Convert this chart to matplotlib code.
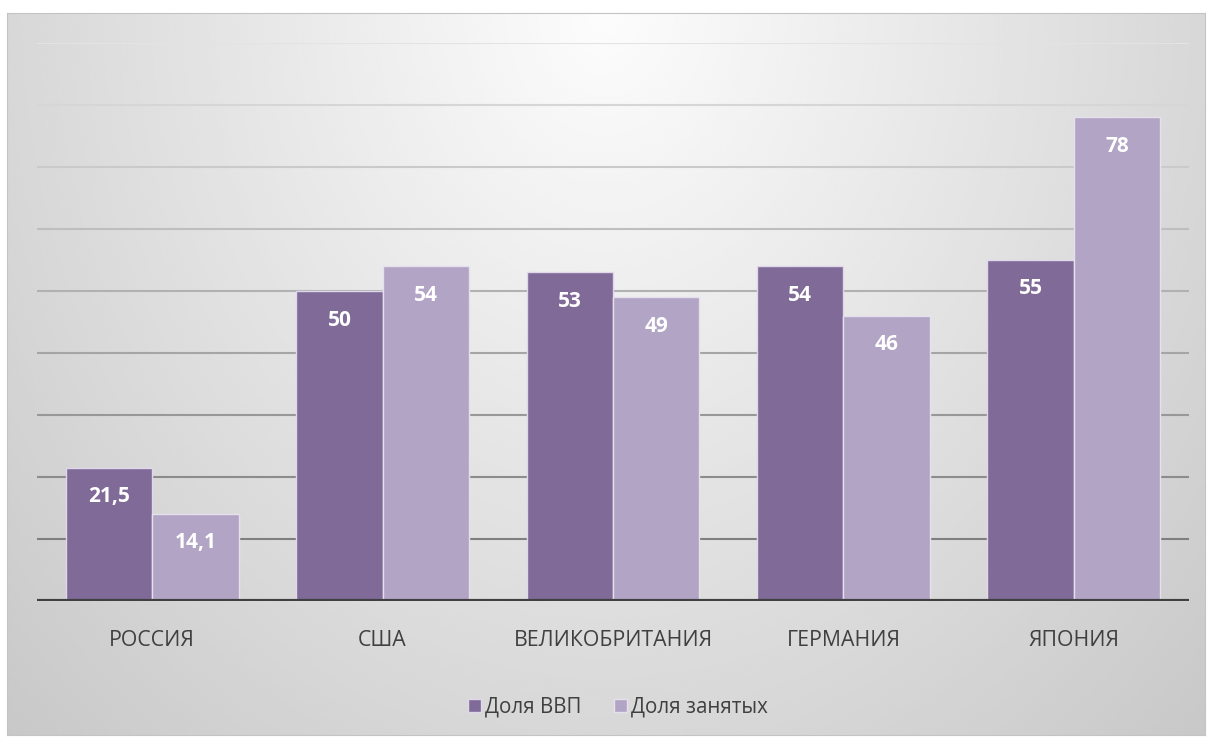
import numpy as np
import matplotlib
matplotlib.use('Agg')
import matplotlib.pyplot as plt

plt.rcParams['font.family'] = ['Open Sans', 'DejaVu Sans']

countries = ['РОССИЯ', 'США', 'ВЕЛИКОБРИТАНИЯ', 'ГЕРМАНИЯ', 'ЯПОНИЯ']
gdp_share = [21.5, 50, 53, 54, 55]
emp_share = [14.1, 54, 49, 46, 78]
gdp_labels = ['21,5', '50', '53', '54', '55']
emp_labels = ['14,1', '54', '49', '46', '78']
series_names = ['Доля ВВП', 'Доля занятых']

W, H = 1207, 738
fig = plt.figure(figsize=(W / 100, H / 100), dpi=100)

# radial gray gradient: white at top middle, gray toward the bottom corners
bg = fig.add_axes([7 / W, 3 / H, 1198 / W, 722 / H], zorder=0)
yy, xx = np.mgrid[0:1:300j, 0:1:500j]
r = np.sqrt(((xx - 0.5) / 0.5) ** 2 + yy ** 2)
bg.imshow(0.99 - 0.145 * r, cmap='gray', vmin=0, vmax=1,
          aspect='auto', extent=[0, 1, 0, 1], interpolation='bicubic')
bg.set_xticks([])
bg.set_yticks([])
for s in bg.spines.values():
    s.set_color('#c4c4c4')

ax = fig.add_axes([37 / W, (H - 601) / H, 1152 / W, 558 / H], zorder=1)
ax.patch.set_alpha(0)
ax.set_xlim(-0.5, 4.5)
ax.set_ylim(0, 90)

# gridlines fade from light at top to darker near the base
for v in range(10, 100, 10):
    g = 0.45 + 0.44 * (v / 90.0)
    ax.axhline(v, color=(g, g, g), lw=1.5, zorder=1)
ax.axhline(0, color='#404040', lw=3, zorder=4)

x = np.arange(len(countries))
w = 0.375
b1 = ax.bar(x - w / 2, gdp_share, w, color='#7f6a98', edgecolor='#e0d8ea', lw=1, zorder=2, label=series_names[0])
b2 = ax.bar(x + w / 2, emp_share, w, color='#b1a4c4', edgecolor='#e6e0ee', lw=1, zorder=2, label=series_names[1])

for bars, labs in ((b1, gdp_labels), (b2, emp_labels)):
    for b, t in zip(bars, labs):
        ax.annotate(t, (b.get_x() + b.get_width() / 2, b.get_height()), xytext=(0, -29),
                    textcoords='offset pixels', ha='center', va='center',
                    color='white', fontsize=15, fontweight='bold', zorder=5)

ax.set_xticks(x)
ax.set_xticklabels(countries, fontsize=15.3, color='#404040')
ax.tick_params(axis='x', length=0, pad=21)
ax.set_yticks([])
for s in ax.spines.values():
    s.set_visible(False)

fig.legend(handles=[b1, b2], loc='center', bbox_to_anchor=(618 / W, (H - 707) / H), ncol=2,
           frameon=False, fontsize=14.8, handlelength=0.6, handleheight=0.6,
           handletextpad=0.2, columnspacing=1.6, labelcolor='#404040')

fig.savefig('out.png', dpi=100, facecolor='white')
